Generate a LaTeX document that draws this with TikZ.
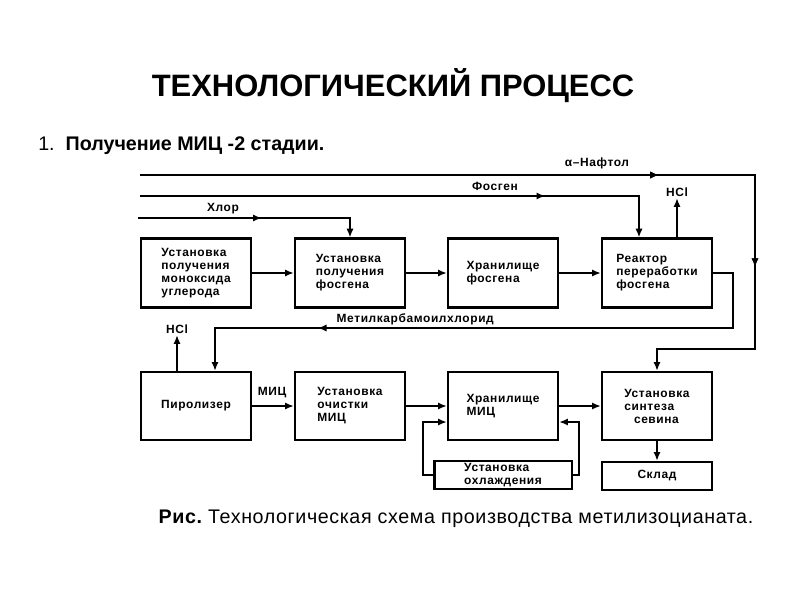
\documentclass[tikz,border=0pt]{standalone}
\usepackage{fontspec}
\setmainfont{Liberation Sans}
\newfontfamily\boxfont[LetterSpace=5]{Liberation Sans}
\newfontfamily\capfont[LetterSpace=3]{Liberation Sans}
\usetikzlibrary{arrows.meta,decorations.markings}

\tikzset{
  blk/.style={draw=black, line width=1.6pt, minimum width=2.75cm, minimum height=1.72cm,
    align=left, inner sep=0pt, font=\boxfont\bfseries\fontsize{8.5}{9.2}\selectfont},
  lowblk/.style={blk, minimum height=0.7cm},
  lbl/.style={inner sep=1pt, font=\boxfont\bfseries\fontsize{8.5}{9.2}\selectfont},
  pipe/.style={line width=1.6pt},
  flow/.style={pipe, -{Latex[length=2.2mm,width=1.8mm]}},
  midarr/.style={postaction={decorate}, decoration={markings,
    mark=at position #1 with {\arrow{Latex[length=2.2mm,width=1.8mm]}}}}
}

\begin{document}
\begin{tikzpicture}[x=0.025cm, y=-0.025cm]
\useasboundingbox (0,0) rectangle (800,600);

% headings
\node (title) at (393,86) {\fontsize{22}{25}\selectfont\bfseries ТЕХНОЛОГИЧЕСКИЙ ПРОЦЕСС};
\node[anchor=west, inner sep=0pt] (stage) at (38,146) {\fontsize{14}{16}\selectfont 1.\ \ \bfseries Получение МИЦ -2 стадии.};

% upper row
\node[blk] (co)   at (196,273) {Установка\\получения\\моноксида\\углерода};
\node[blk] (fsgu) at (350,273) {Установка\\получения\\фосгена};
\node[blk] (fsgh) at (503,273) {Хранилище\\фосгена};
\node[blk] (reak) at (657,273) {Реактор\\переработки\\фосгена};

% lower row
\node[blk, minimum height=1.7cm] (piro) at (196,406) {Пиролизер};
\node[blk, minimum height=1.7cm] (ochi) at (350,406) {Установка\\очистки\\МИЦ};
\node[blk, minimum height=1.7cm] (mich) at (503,406) {Хранилище\\МИЦ};
\node[blk, minimum height=1.7cm] (sint) at (657,406) {Установка\\синтеза\\\hspace{0.8em}севина};
\node[lowblk, minimum width=3.43cm] (okhl) at (503,475) {Установка\\охлаждения};
\node[lowblk] (sklad) at (657,476) {Склад};

% feed lines
\coordinate (naft) at (140,175);
\coordinate (fosg) at (140,196);
\coordinate (chlor) at (138,218);
\node[lbl] (naftl) at (597,163) {α–Нафтол};
\node[lbl] (fosgl) at (495,186) {Фосген};
\node[lbl] (chlorl) at (223,209) {Хлор};
\draw[flow, midarr=0.535] (chlor) -| (fsgu.north);
\draw[flow, midarr=0.75] (fosg) -| ([xshift=-0.45cm]reak.north);
\draw[flow, midarr=0.571, midarr=0.778] (naft) -| (755,349) -| (sint.north);

% HCl
\node[lbl] (hcl1) at (677,192) {HCl};
\draw[flow] (reak.north -| hcl1) -- (hcl1.south);
\node[lbl] (hcl2) at (177,329) {HCl};
\draw[flow] (piro.north -| hcl2) -- (hcl2.south);

% recycle to pyrolyser
\node[lbl, anchor=west] (mkl) at (335,319) {Метилкарбамоилхлорид};
\draw[flow, midarr=0.771] (reak.east) -| (733,328) -| ([xshift=0.475cm]piro.north);

% main flow
\draw[flow] (co) -- (fsgu);
\draw[flow] (fsgu) -- (fsgh);
\draw[flow] (fsgh) -- (reak);
\node[lbl] (micl) at (272,393) {МИЦ};
\draw[flow] (piro) -- (ochi);
\draw[flow] (ochi) -- (mich);
\draw[flow] (mich) -- (sint);
\draw[flow] (sint) -- (sklad);

% cooling loop
\draw[flow] (okhl.east) -- ++(6,0) |- ([yshift=-0.4cm]mich.east);
\draw[flow] (okhl.west) -- ++(-10,0) |- ([yshift=-0.4cm]mich.west);

% caption
\node (caption) at (456,519) {\capfont\fontsize{14}{16}\selectfont\bfseries Рис.\mdseries\ Технологическая схема производства метилизоцианата.};
\end{tikzpicture}
\end{document}
